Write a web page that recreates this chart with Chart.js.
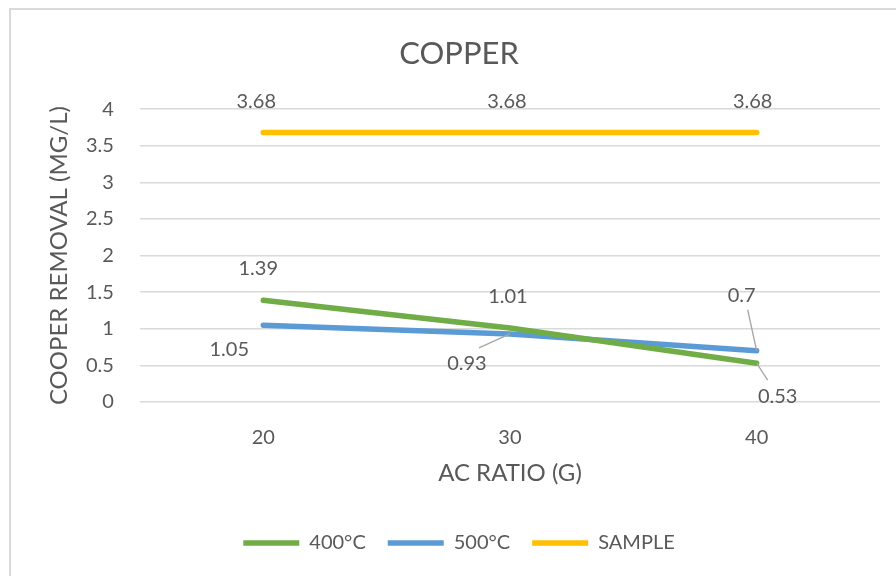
<!DOCTYPE html>
<html>
<head>
<meta charset="utf-8">
<script src="https://cdn.jsdelivr.net/npm/chart.js@4.4.1/dist/chart.umd.min.js"></script>
<style>
  html, body { margin: 0; padding: 0; background: #ffffff; }
  #wrap { position: relative; width: 896px; height: 576px; overflow: hidden; }
  #frame { position: absolute; left: 9px; top: 8px; width: 900px; height: 600px;
           border: 2px solid #d9d9d9; box-sizing: border-box; }
  canvas { position: absolute; left: 0; top: 0; }
</style>
</head>
<body>
<div id="wrap">
  <div id="frame"></div>
  <canvas id="chart" width="896" height="576"></canvas>
</div>
<script>
// Activated-carbon ratio (g) on the x axis
const categories = ['20', '30', '40'];
// Copper concentration (mg/L) per treatment
const series400 = [1.39, 1.01, 0.53];
const series500 = [1.05, 0.93, 0.7];
const seriesSample = [3.68, 3.68, 3.68];
const yTicks = [0, 0.5, 1, 1.5, 2, 2.5, 3, 3.5, 4];

// Label placement relative to each point: [dx, dy, leader line?]
const labelPlacement = [
  [[-5, -32, false], [-2, -32, false], [21, 33, true]],
  [[-34, 24, false], [-43, 30, true], [-15, -55, true]],
  [[-7, -31, false], [-3, -31, false], [-4, -31, false]]
];

const TEXT = '#595959';
const FONT = 'Lato, "Open Sans", sans-serif';

const dataLabels = {
  id: 'dataLabels',
  afterDatasetsDraw(chart) {
    const ctx = chart.ctx;
    ctx.save();
    ctx.font = '20px ' + FONT;
    ctx.fillStyle = TEXT;
    ctx.textAlign = 'center';
    ctx.textBaseline = 'middle';
    chart.data.datasets.forEach((ds, di) => {
      const meta = chart.getDatasetMeta(di);
      meta.data.forEach((pt, i) => {
        const [dx, dy, leader] = labelPlacement[di][i];
        const lx = pt.x + dx, ly = pt.y + dy;
        if (leader) {
          ctx.strokeStyle = '#a6a6a6';
          ctx.lineWidth = 1.3;
          ctx.beginPath();
          // leader runs from the label's near edge to the point
          const ex = lx + (dx > 0 ? -10 : (dx < -20 ? 12 : 6));
          const ey = ly + (dy > 0 ? -16 : 14);
          ctx.moveTo(ex, ey);
          ctx.lineTo(pt.x, pt.y);
          ctx.stroke();
        }
        ctx.fillText(String(ds.data[i]), lx, ly);
      });
    });
    ctx.restore();
  }
};

new Chart(document.getElementById('chart'), {
  type: 'line',
  data: {
    labels: categories,
    datasets: [
      { label: '400°C', data: series400, borderColor: '#70ad47', backgroundColor: '#70ad47' },
      { label: '500°C', data: series500, borderColor: '#5b9bd5', backgroundColor: '#5b9bd5' },
      { label: 'SAMPLE', data: seriesSample, borderColor: '#ffc000', backgroundColor: '#ffc000' }
    ].map(d => Object.assign(d, {
      borderWidth: 5.5, pointRadius: 0, pointHoverRadius: 0, tension: 0,
      borderCapStyle: 'round', borderJoinStyle: 'round', fill: false
    }))
  },
  options: {
    responsive: false,
    animation: false,
    events: [],
    layout: { padding: { left: 38, right: 16, top: 0, bottom: 13 } },
    plugins: {
      title: {
        display: true, text: 'COPPER', color: TEXT,
        font: { family: FONT, size: 31, weight: 'normal' },
        padding: { top: 35, bottom: 37 }
      },
      legend: {
        position: 'bottom',
        labels: {
          usePointStyle: true, pointStyle: 'line', pointStyleWidth: 56, boxWidth: 56,
          color: TEXT, font: { family: FONT, size: 20 }, padding: 22
        }
      },
      tooltip: { enabled: false }
    },
    scales: {
      x: {
        offset: true,
        grid: { display: false },
        border: { display: false },
        ticks: { color: TEXT, font: { family: FONT, size: 20 }, padding: 16 },
        title: {
          display: true, text: 'AC RATIO (G)', color: TEXT,
          font: { family: FONT, size: 24 }, padding: { top: -7.4, bottom: 23.6 }
        }
      },
      y: {
        min: 0, max: 4,
        afterBuildTicks(scale) { scale.ticks = yTicks.map(v => ({ value: v })); },
        grid: { color: '#d9d9d9', lineWidth: 1.5, drawTicks: false },
        border: { display: false },
        ticks: {
          color: TEXT, font: { family: FONT, size: 20 }, padding: 26,
          callback: v => String(v)
        },
        title: {
          display: true, text: 'COOPER REMOVAL (MG/L)', color: TEXT,
          font: { family: FONT, size: 24 }, padding: { top: 6.6, bottom: -13.4 }
        }
      }
    }
  },
  plugins: [dataLabels]
});
</script>
</body>
</html>
